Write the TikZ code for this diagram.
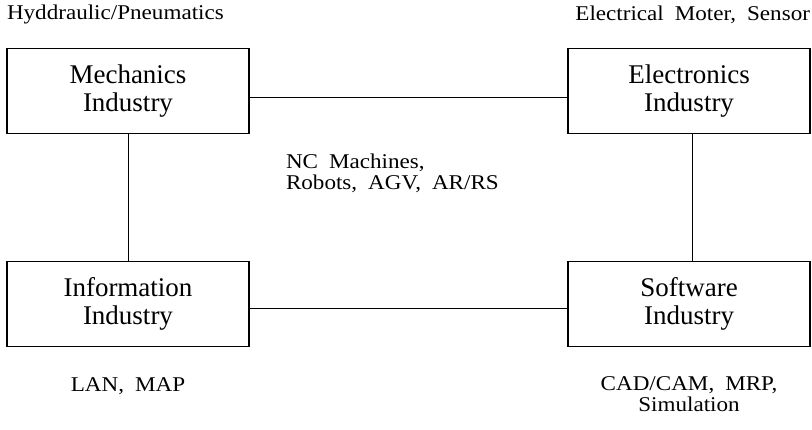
\documentclass[tikz,border=0pt]{standalone}
\usepackage{fontspec}
\setmainfont{Liberation Serif}[WordSpace=1.6]
\newfontfamily\notefont{Liberation Serif}[FakeStretch=1.1, WordSpace=1.9]
\usetikzlibrary{positioning}

\begin{document}
\begin{tikzpicture}[
        x=1pt, y=-1pt,
        every node/.style={align=center, outer sep=0pt},
        industry/.style={rectangle, draw, line width=1.4pt,
                         minimum width=242pt, minimum height=85pt,
                         inner sep=0pt,
                         font=\fontsize{27}{28}\selectfont},
        link/.style={line width=0.8pt},
        note/.style={inner sep=0pt, font=\notefont\fontsize{21}{21}\selectfont}
    ]
        \useasboundingbox (0,0) rectangle (812,429);

        % --- Cajas de industria ---
        \node[industry] (mech) at (128,91) {Mechanics\\Industry};
        \node[industry] (elec) at (689,91) {Electronics\\Industry};
        \node[industry] (info) at (128,304) {Information\\Industry};
        \node[industry] (soft) at (689,304) {Software\\Industry};

        % --- Enlaces ---
        \draw[link] ([yshift=-6pt]mech.east) -- ([yshift=-6pt]elec.west);
        \draw[link] ([yshift=-4pt]info.east) -- ([yshift=-4pt]soft.west);
        \draw[link] (mech.south) -- (info.north);
        \draw[link] ([xshift=3pt]elec.south) -- ([xshift=3pt]soft.north);

        % --- Notas ---
        \node[note, anchor=west] (hydr) at ([yshift=34pt]mech.north west)
            {Hyddraulic/Pneumatics};
        \node[note, anchor=east] (motor) at ([yshift=34pt]elec.north east)
            {Electrical Moter, Sensor};
        \node[note, align=left, anchor=west] (nc) at (286,173)
            {NC Machines,\\Robots, AGV, AR/RS};
        \node[note] (lan) at ([yshift=-40pt]info.south) {LAN, MAP};
        \node[note] (cad) at ([yshift=-48pt]soft.south)
            {CAD/CAM, MRP,\\Simulation};
    \end{tikzpicture}
\end{document}
